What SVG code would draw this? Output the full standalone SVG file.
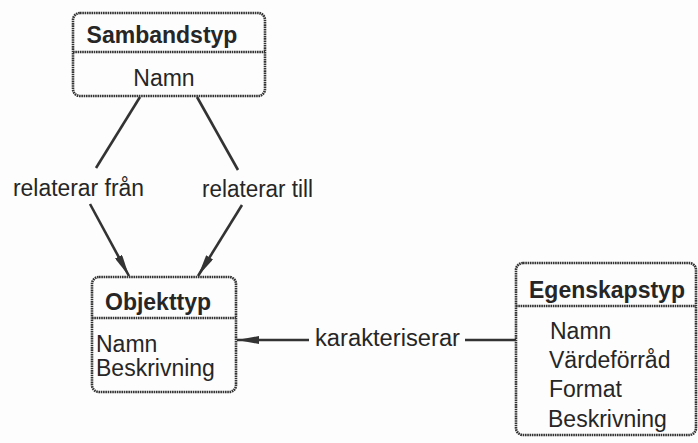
<svg xmlns="http://www.w3.org/2000/svg" width="698" height="443" viewBox="0 0 698 443">
  <style>
    .box { fill: none; stroke: #333; stroke-width: 2.6; stroke-dasharray: 1.6 0.7; }
    .sep { stroke: #333; stroke-width: 2.6; stroke-dasharray: 1.6 0.7; }
    .title { font-family: "Liberation Sans", Arial, sans-serif; font-size: 23px; font-weight: bold; fill: #262626; }
    .attr { font-family: "Liberation Sans", Arial, sans-serif; font-size: 23px; fill: #262626; }
    .lbl { font-family: "Liberation Sans", Arial, sans-serif; font-size: 23px; fill: #262626; }
    .edge { stroke: #333; stroke-width: 2.6; fill: none; }
  </style>
  <defs>
    <marker id="arrow" viewBox="0 0 22 8" refX="22" refY="4" markerWidth="22" markerHeight="8" markerUnits="userSpaceOnUse" orient="auto">
      <path d="M0,0 L22,4 L0,8 Z" fill="#333"/>
    </marker>
  </defs>
  <rect width="698" height="443" fill="#fdfdfd"/>

  <g id="connectors">
    <!-- relaterar från -->
    <line class="edge" x1="140" y1="97" x2="96" y2="168"/>
    <line class="edge" x1="90" y1="204" x2="129" y2="276" marker-end="url(#arrow)"/>
    <text class="lbl" x="13" y="196" textLength="131" lengthAdjust="spacingAndGlyphs">relaterar från</text>
    <!-- relaterar till -->
    <line class="edge" x1="197" y1="97" x2="238" y2="170"/>
    <line class="edge" x1="242" y1="205" x2="198" y2="276" marker-end="url(#arrow)"/>
    <text class="lbl" x="202" y="197" textLength="111" lengthAdjust="spacingAndGlyphs">relaterar till</text>
    <!-- karakteriserar -->
    <line class="edge" x1="309" y1="340" x2="237" y2="340" marker-end="url(#arrow)"/>
    <line class="edge" x1="465" y1="340" x2="516" y2="340"/>
    <text class="lbl" x="315" y="346" textLength="145" lengthAdjust="spacingAndGlyphs">karakteriserar</text>
  </g>

  <g id="sambandstyp">
    <rect class="box" x="73" y="13" width="192" height="83" rx="7"/>
    <line class="sep" x1="73" y1="52" x2="265" y2="52"/>
    <text class="title" x="162" y="43" text-anchor="middle">Sambandstyp</text>
    <text class="attr" x="164" y="86" text-anchor="middle">Namn</text>
  </g>

  <g id="objekttyp">
    <rect class="box" x="92" y="277" width="144" height="115" rx="7"/>
    <line class="sep" x1="92" y1="318" x2="236" y2="318"/>
    <text class="title" x="105" y="310">Objekttyp</text>
    <text class="attr" x="96" y="352">Namn</text>
    <text class="attr" x="96" y="376">Beskrivning</text>
  </g>

  <g id="egenskapstyp">
    <rect class="box" x="516" y="263" width="180" height="172" rx="7"/>
    <line class="sep" x1="516" y1="306" x2="696" y2="306"/>
    <text class="title" x="529" y="298">Egenskapstyp</text>
    <text class="attr" x="550" y="339">Namn</text>
    <text class="attr" x="549" y="368">Värdeförråd</text>
    <text class="attr" x="549" y="397">Format</text>
    <text class="attr" x="548" y="427">Beskrivning</text>
  </g>
</svg>
